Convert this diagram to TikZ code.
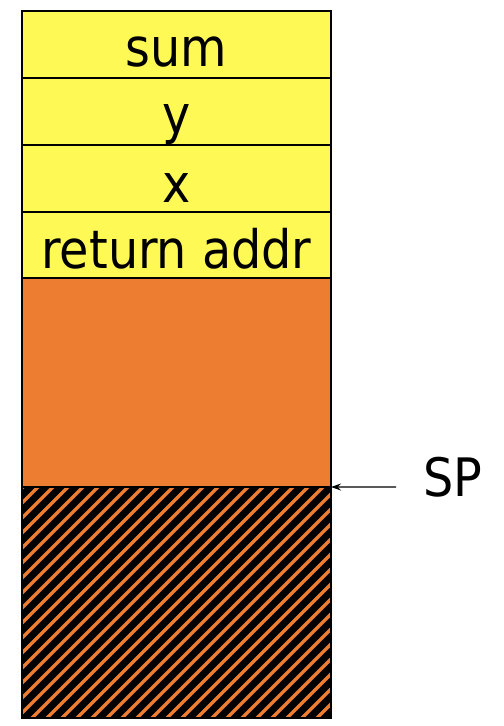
\documentclass[tikz,border=0pt]{standalone}
\usepackage{fontspec}
\setmainfont{DejaVu Sans Condensed}
\usetikzlibrary{arrows.meta}
\definecolor{cellyellow}{HTML}{FFF955}
\definecolor{cellorange}{HTML}{ED7D31}
\begin{document}
\begin{tikzpicture}[x=1bp,y=-1bp,
  cell/.style={draw=black,line width=1.5bp,rectangle,anchor=north west,
    minimum width=309bp,inner sep=0pt,outer sep=0pt},
  ycell/.style={cell,fill=cellyellow,minimum height=67bp},
  txt/.style={anchor=base,inner sep=0pt,font=\fontsize{53bp}{55bp}\selectfont}]
\useasboundingbox (0,0) rectangle (504,726);
\node[ycell] (sum) at (22,11) {};
\node[ycell] (y) at (22,78) {};
\node[ycell] (x) at (22,145) {};
\node[ycell,minimum height=66bp] (ret) at (22,212) {};
\node[cell,fill=cellorange,minimum height=209bp] (stack) at (22,278) {};
\node[cell,fill=black,minimum height=231bp] (hatch) at (22,487) {};
\node[txt] (tsum) at (176.5,67) {sum};
\node[txt] (ty) at (176.5,134) {y};
\node[txt] (tx) at (176.5,202) {x};
\node[txt] (tret) at (176.5,268) {return addr};
\begin{scope}
  \clip (hatch.south west) rectangle (hatch.north east);
  \foreach \i in {-260,-245,...,340}
    \draw[cellorange,line width=3.5bp] (\i,740) -- ++(280,-280);
\end{scope}
\draw[line width=1.5bp] (hatch.south west) rectangle (hatch.north east);
\draw[line width=1.5bp] (stack.south west) -- (stack.south east);
\node[txt] (sp) at (453,496) {SP};
\coordinate (spfrom) at (396,487);
\draw[-{Stealth[length=10bp,width=7bp]},line width=1.1bp] (spfrom) -- (stack.south east);
\end{tikzpicture}
\end{document}
